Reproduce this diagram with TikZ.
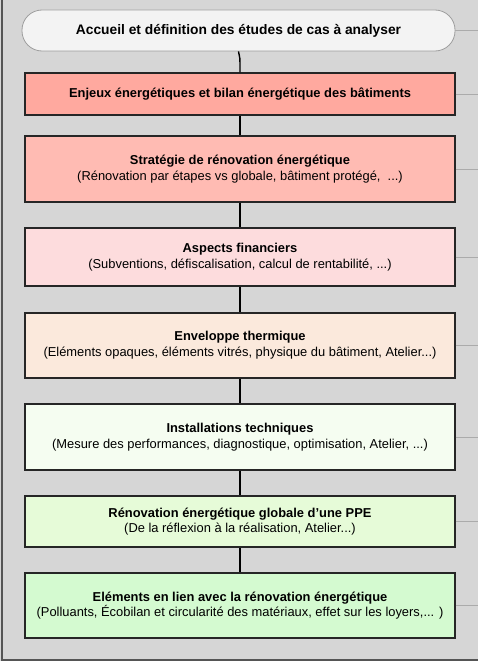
\documentclass[tikz,border=0pt]{standalone}
\usepackage{fontspec}
\setmainfont{Liberation Sans}
\definecolor{bg}{HTML}{D6D6D6}
\definecolor{frameC}{HTML}{555555}
\definecolor{pillF}{HTML}{F3F3F3}
\definecolor{pillD}{HTML}{9E9E9E}
\definecolor{stubC}{HTML}{ABABAB}
\definecolor{cA}{HTML}{FFA99F}
\definecolor{cB}{HTML}{FFBBB3}
\definecolor{cC}{HTML}{FDDCDD}
\definecolor{cD}{HTML}{FBE9DC}
\definecolor{cE}{HTML}{F5FDF1}
\definecolor{cF}{HTML}{E6FBD8}
\definecolor{cG}{HTML}{D4FAD0}
\tikzset{
  stepbox/.style={draw=black!85, line width=1.3pt, minimum width=430pt, align=center, inner sep=0pt, font=\fontsize{12.9}{15.7}\selectfont},
  pill/.style={draw=pillD, fill=pillF, line width=0.8pt, rounded corners=20pt, minimum width=433pt, minimum height=41pt, inner sep=0pt, font=\fontsize{13.8}{15}\selectfont\bfseries},
  link/.style={line width=1.4pt, black},
  stub/.style={line width=0.8pt, stubC},
}
\begin{document}
\begin{tikzpicture}[x=1pt, y=-1pt]
\useasboundingbox (0,0) rectangle (478,661);
\fill[bg] (0,0) rectangle (478,661);
\draw[frameC, line width=2pt] (2,0) -- (2,659.5) -- (478,659.5);
\coordinate (rightedge) at (478,0);

\node[pill] (p0) at (238.5,30.5) {Accueil et définition des études de cas à analyser};
\node[stepbox, fill=cA, minimum height=42pt] (b1) at (240,94) {\textbf{Enjeux énergétiques et bilan énergétique des bâtiments}};
\node[stepbox, fill=cB, minimum height=66pt] (b2) at (240,169) {\textbf{Stratégie de rénovation énergétique}\\(Rénovation par étapes vs globale, bâtiment protégé,~ ...)};
\node[stepbox, fill=cC, minimum height=58pt] (b3) at (240,257) {\textbf{Aspects financiers}\\(Subventions, défiscalisation, calcul de rentabilité, ...)};
\node[stepbox, fill=cD, minimum height=65pt] (b4) at (240,345.5) {\textbf{Enveloppe thermique}\\(Eléments opaques, éléments vitrés, physique du bâtiment, Atelier...)};
\node[stepbox, fill=cE, minimum height=66pt] (b5) at (240,437) {\textbf{Installations techniques}\\(Mesure des performances, diagnostique, optimisation, Atelier, ...)};
\node[stepbox, fill=cF, minimum height=51pt] (b6) at (240,521.5) {\textbf{Rénovation énergétique globale d’une PPE}\\(De la réflexion à la réalisation, Atelier...)};
\node[stepbox, fill=cG, minimum height=65pt] (b7) at (240,605.5) {\textbf{Eléments en lien avec la rénovation énergétique}\\(Polluants, Écobilan et circularité des matériaux, effet sur les loyers,... )};

\draw[link] (p0.south) .. controls (240,57) .. (b1.north);
\draw[link] (b1) -- (b2);
\draw[link] (b2) -- (b3);
\draw[link] (b3) -- (b4);
\draw[link] (b4) -- (b5);
\draw[link] (b5) -- (b6);
\draw[link] (b6) -- (b7);

\foreach \n in {p0,b1,b2,b3,b4,b5,b6,b7}
  \draw[stub] (\n.east) -- (\n.east -| rightedge);
\end{tikzpicture}
\end{document}
